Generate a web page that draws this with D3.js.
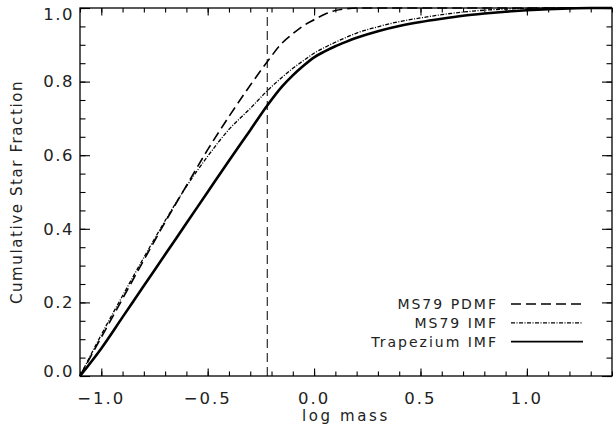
<!DOCTYPE html>
<html lang="en">
<head>
    <meta charset="UTF-8">
    <title>Cumulative Star Fraction</title>
    <script src="https://cdnjs.cloudflare.com/ajax/libs/d3/7.8.5/d3.min.js"></script>
    <style>
        body { margin: 0; background: #fff; }
        svg { display: block; font-family: "DejaVu Sans", sans-serif; }
        text { fill: #222; }
    </style>
</head>
<body>
    <svg id="chart" width="613" height="435"></svg>

    <script>
        // log mass grid shared by the three curves
        const logMass = [-1.1, -1.0, -0.9, -0.8, -0.7, -0.6, -0.5, -0.4, -0.3, -0.22,
                         -0.15, -0.1, -0.05, 0.0, 0.05, 0.1, 0.15, 0.2, 0.3, 0.4,
                         0.5, 0.6, 0.7, 0.8, 0.9, 1.0, 1.1, 1.2, 1.3, 1.4];

        const ms79Pdmf = [0, 0.105, 0.21, 0.315, 0.418, 0.517, 0.615, 0.705, 0.79, 0.854,
                          0.905, 0.93, 0.952, 0.968, 0.983, 0.993, 0.998, 1.0, 1.0, 1.0,
                          1.0, 1.0, 1.0, 1.0, 1.0, 1.0, 1.0, 1.0, 1.0, 1.0];

        const ms79Imf = [0, 0.112, 0.218, 0.322, 0.422, 0.515, 0.597, 0.67, 0.727, 0.775,
                         0.812, 0.836, 0.857, 0.877, 0.893, 0.907, 0.92, 0.932, 0.949, 0.963,
                         0.973, 0.982, 0.989, 0.994, 0.997, 0.999, 1.0, 1.0, 1.0, 1.0];

        const trapeziumImf = [0, 0.075, 0.16, 0.245, 0.33, 0.415, 0.5, 0.585, 0.668, 0.735,
                              0.787, 0.817, 0.843, 0.866, 0.882, 0.896, 0.908, 0.919, 0.937, 0.951,
                              0.962, 0.971, 0.979, 0.985, 0.99, 0.994, 0.997, 0.999, 1.0, 1.0];

        const markerLogMass = -0.22;

        const xTicks = [-1.0, -0.5, 0.0, 0.5, 1.0];
        const yTicks = [0.0, 0.2, 0.4, 0.6, 0.8, 1.0];

        const series = [
            { name: 'MS79 PDMF', values: ms79Pdmf, dash: '10,5', width: 1.6 },
            { name: 'MS79 IMF', values: ms79Imf, dash: '4,1.5,1,1.5', width: 1.3 },
            { name: 'Trapezium IMF', values: trapeziumImf, dash: null, width: 2.6 }
        ];

        const svg = d3.select('#chart');
        const margin = { left: 80, right: 1, top: 8, bottom: 59 };
        const width = 613, height = 435;

        const x = d3.scaleLinear().domain([-1.1, 1.4]).range([margin.left, width - margin.right]);
        const y = d3.scaleLinear().domain([0, 1]).range([height - margin.bottom, margin.top]);

        const fmt = d => (d < 0 ? '\u2212' : '') + Math.abs(d).toFixed(1);
        const xMinor = d3.range(-11, 15).map(i => i / 10);
        const yMinor = d3.range(0, 21).map(i => i / 20);

        // frame
        svg.append('rect')
            .attr('x', x(-1.1)).attr('y', y(1))
            .attr('width', x(1.4) - x(-1.1)).attr('height', y(0) - y(1))
            .attr('fill', 'none').attr('stroke', '#000').attr('stroke-width', 1.3);

        // axes, ticks pointing inward
        const axisStyle = g => {
            g.select('.domain').remove();
            g.selectAll('line').attr('stroke', '#000').attr('stroke-width', 1.1);
        };

        svg.append('g').attr('transform', `translate(0,${y(0)})`)
            .call(d3.axisTop(x).tickValues(xMinor).tickSize(4.5).tickFormat(''))
            .call(axisStyle);
        svg.append('g').attr('transform', `translate(0,${y(0)})`)
            .call(d3.axisTop(x).tickValues(xTicks).tickSize(7.5).tickFormat(''))
            .call(axisStyle);
        svg.append('g').attr('transform', `translate(0,${y(1)})`)
            .call(d3.axisBottom(x).tickValues(xMinor).tickSize(4.5).tickFormat(''))
            .call(axisStyle);
        svg.append('g').attr('transform', `translate(0,${y(1)})`)
            .call(d3.axisBottom(x).tickValues(xTicks).tickSize(7.5).tickFormat(''))
            .call(axisStyle);

        svg.append('g').attr('transform', `translate(${x(-1.1)},0)`)
            .call(d3.axisRight(y).tickValues(yMinor).tickSize(5.5).tickFormat(''))
            .call(axisStyle);
        svg.append('g').attr('transform', `translate(${x(-1.1)},0)`)
            .call(d3.axisRight(y).tickValues(yTicks).tickSize(10).tickFormat(''))
            .call(axisStyle);
        svg.append('g').attr('transform', `translate(${x(1.4)},0)`)
            .call(d3.axisLeft(y).tickValues(yMinor).tickSize(5.5).tickFormat(''))
            .call(axisStyle);
        svg.append('g').attr('transform', `translate(${x(1.4)},0)`)
            .call(d3.axisLeft(y).tickValues(yTicks).tickSize(10).tickFormat(''))
            .call(axisStyle);

        // tick labels
        svg.append('g').selectAll('text').data(xTicks).join('text')
            .attr('x', d => x(d))
            .attr('y', y(0) + 28)
            .attr('text-anchor', 'middle')
            .attr('font-size', 16.5)
            .attr('letter-spacing', 2)
            .text(fmt);

        svg.append('g').selectAll('text').data(yTicks).join('text')
            .attr('x', x(-1.1) - 6)
            .attr('y', d => y(d) + (d === 1 ? 6.5 : d === 0 ? -5 : 0))
            .attr('dy', '0.35em')
            .attr('text-anchor', 'end')
            .attr('font-size', 16.5)
            .attr('letter-spacing', 1.5)
            .text(fmt);

        // axis titles
        svg.append('text')
            .attr('x', (x(-1.1) + x(1.4)) / 2)
            .attr('y', 421)
            .attr('text-anchor', 'middle')
            .attr('font-size', 15)
            .attr('letter-spacing', 2.6)
            .text('log mass');

        svg.append('text')
            .attr('transform', `translate(22,${(y(0) + y(1)) / 2}) rotate(-90)`)
            .attr('text-anchor', 'middle')
            .attr('font-size', 15)
            .attr('letter-spacing', 1.6)
            .text('Cumulative Star Fraction');

        // vertical marker
        svg.append('line')
            .attr('x1', x(markerLogMass)).attr('x2', x(markerLogMass))
            .attr('y1', y(0)).attr('y2', y(1))
            .attr('stroke', '#000').attr('stroke-width', 1)
            .attr('stroke-dasharray', '9,5');

        // curves
        const line = d3.line()
            .x((d, i) => x(logMass[i]))
            .y(d => y(d))
            .curve(d3.curveMonotoneX);

        svg.append('g').selectAll('path').data(series).join('path')
            .attr('d', d => line(d.values))
            .attr('fill', 'none')
            .attr('stroke', '#000')
            .attr('stroke-width', d => d.width)
            .attr('stroke-dasharray', d => d.dash);

        // legend
        const legend = svg.append('g').selectAll('g').data(series).join('g')
            .attr('transform', (d, i) => `translate(0,${304 + i * 18.8})`);

        legend.append('text')
            .attr('x', 498)
            .attr('dy', '0.35em')
            .attr('text-anchor', 'end')
            .attr('font-size', 14)
            .attr('letter-spacing', 2)
            .text(d => d.name);

        legend.append('line')
            .attr('x1', 511).attr('x2', 583)
            .attr('stroke', '#000')
            .attr('stroke-width', d => Math.min(d.width, 1.6))
            .attr('stroke-dasharray', d => d.dash);
    </script>
</body>
</html>
